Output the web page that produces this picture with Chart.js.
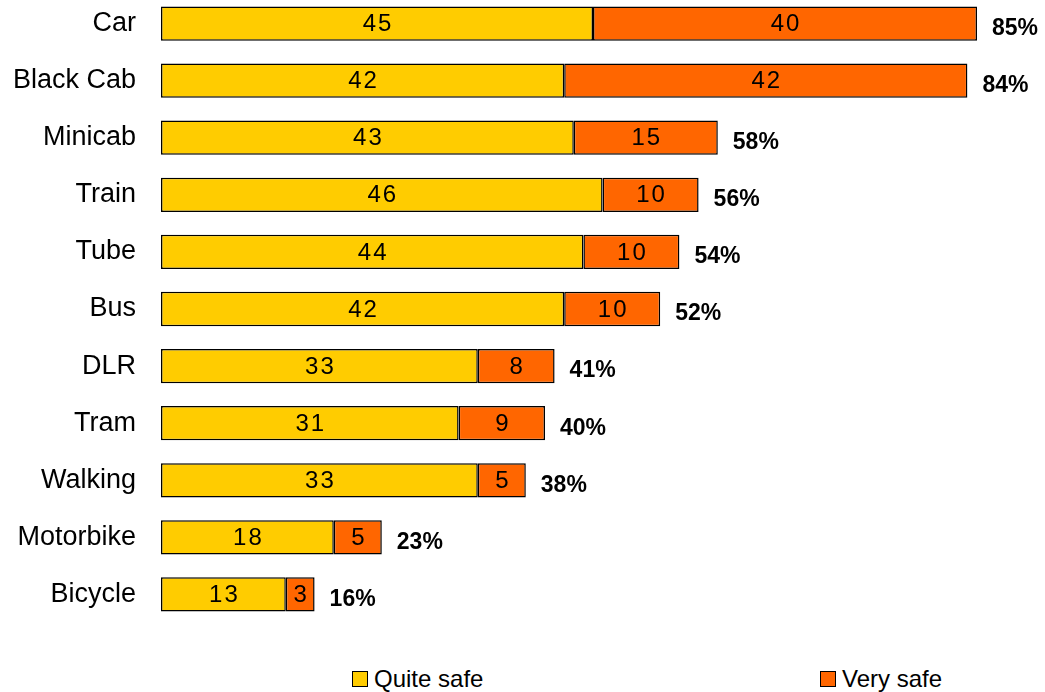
<!DOCTYPE html>
<html lang="en">
<head>
<meta charset="UTF-8">
<title>Feeling safe by mode of transport</title>
<script src="https://cdn.jsdelivr.net/npm/chart.js"></script>
<style>
  body { margin: 0; background: #fff; font-family: "Liberation Sans", Arial, sans-serif; }
  #wrap { position: absolute; left: 0; top: -5px; width: 1045px; height: 628px; }
  .key { position: absolute; top: 666px; font-size: 24px; color: #000; line-height: 26px; }
  .key span { display: inline-block; width: 14px; height: 14px; border: 1px solid #000; margin-right: 6px; vertical-align: 0px; }
</style>
</head>
<body>
<div id="wrap"><canvas id="myChart"></canvas></div>
<div class="key" style="left:352px"><span style="background:#FFCC00"></span>Quite safe</div>
<div class="key" style="left:820px"><span style="background:#FF6600"></span>Very safe</div>

<script>
    const categories = ['Car', 'Black Cab', 'Minicab', 'Train', 'Tube', 'Bus', 'DLR', 'Tram', 'Walking', 'Motorbike', 'Bicycle'];
    const quiteSafe = [45, 42, 43, 46, 44, 42, 33, 31, 33, 18, 13];
    const verySafe = [40, 42, 15, 10, 10, 10, 8, 9, 5, 5, 3];

    // numbers inside each segment + bold total at the end of the bar
    const barLabels = {
        id: 'barLabels',
        afterDatasetsDraw(chart) {
            const ctx = chart.ctx;
            ctx.save();
            ctx.fillStyle = '#000';
            ctx.textAlign = 'center';
            ctx.textBaseline = 'middle';
            ctx.font = '24px "Liberation Sans", Arial, sans-serif';
            ctx.letterSpacing = '2px';
            chart.data.datasets.forEach((ds, di) => {
                chart.getDatasetMeta(di).data.forEach((bar, i) => {
                    const mid = (bar.x + bar.base) / 2;
                    ctx.fillText(String(ds.data[i]), mid + 1, bar.y + 1);
                });
            });
            ctx.letterSpacing = '0px';
            ctx.textAlign = 'left';
            ctx.font = 'bold 23px "Liberation Sans", Arial, sans-serif';
            const top = chart.getDatasetMeta(1).data;
            top.forEach((bar, i) => {
                const total = quiteSafe[i] + verySafe[i];
                ctx.fillText(total + '%', bar.x + 15, bar.y + 5);
            });
            ctx.restore();
        }
    };

    const ctx = document.getElementById('myChart').getContext('2d');
    const chart = new Chart(ctx, {
        type: 'bar',
        data: {
            labels: categories,
            datasets: [{
                label: 'Quite safe',
                data: quiteSafe,
                backgroundColor: '#FFCC00',
                borderColor: '#000',
                borderWidth: 1.5,
                borderSkipped: false
            }, {
                label: 'Very safe',
                data: verySafe,
                backgroundColor: '#FF6600',
                borderColor: '#000',
                borderWidth: 1.5,
                borderSkipped: false
            }]
        },
        options: {
            indexAxis: 'y',
            responsive: true,
            maintainAspectRatio: false,
            animation: false,
            barPercentage: 0.6,
            categoryPercentage: 1,
            layout: { padding: { left: 0, right: 20, top: 0, bottom: 0 } },
            plugins: {
                legend: { display: false },
                tooltip: { enabled: false }
            },
            scales: {
                x: {
                    stacked: true,
                    min: 0,
                    max: 90,
                    display: false
                },
                y: {
                    stacked: true,
                    grid: { display: false, drawTicks: false },
                    border: { display: false },
                    ticks: {
                        color: '#000',
                        padding: 25,
                        font: { family: '"Liberation Sans", Arial, sans-serif', size: 27 }
                    },
                    afterFit(scale) {
                        scale.width = 161;
                        scale.paddingTop = 0;
                        scale.paddingBottom = 0;
                    }
                }
            }
        },
        plugins: [barLabels]
    });
</script>
</body>
</html>
